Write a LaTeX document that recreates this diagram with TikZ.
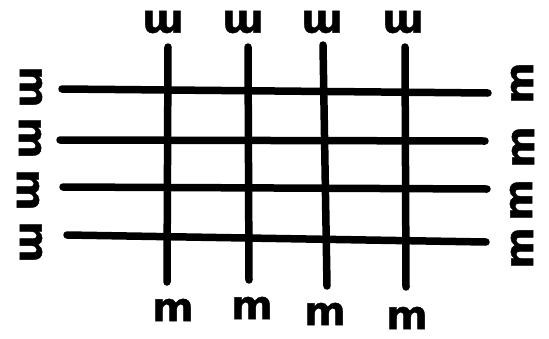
\documentclass[tikz,border=0pt]{standalone}
\usepackage{fontspec}
\newfontfamily\lblfont{DejaVu Sans}[FakeBold=1]
\begin{document}
\begin{tikzpicture}[x=1pt,y=-1pt,
  gridline/.style={line width=7.5pt,line cap=round},
  mlabel/.style={font=\lblfont\bfseries\fontsize{40}{42}\selectfont,inner sep=0pt,anchor=center}]
\useasboundingbox (0,0) rectangle (549,338);
% horizontal line ends
\coordinate (hl1) at (62,89);  \coordinate (hr1) at (488,93);
\coordinate (hl2) at (60,140); \coordinate (hr2) at (485,141);
\coordinate (hl3) at (63,187); \coordinate (hr3) at (487,189);
\coordinate (hl4) at (67,235); \coordinate (hr4) at (486,242);
% vertical line ends
\coordinate (vt1) at (168,47); \coordinate (vb1) at (167,282);
\coordinate (vt2) at (248,47); \coordinate (vb2) at (249,280);
\coordinate (vt3) at (323,45); \coordinate (vb3) at (327,286);
\coordinate (vt4) at (405,47); \coordinate (vb4) at (406,287);
\foreach \i in {1,...,4}{
  \draw[gridline] (hl\i) -- (hr\i);
  \draw[gridline] (vt\i) -- (vb\i);
}
% labels
\node[mlabel,rotate=180] (t1) at (163,22) {m};
\node[mlabel,rotate=180] (t2) at (243,22) {m};
\node[mlabel,rotate=180] (t3) at (322,22) {m};
\node[mlabel,rotate=180] (t4) at (403,22) {m};
\node[mlabel] (b1) at (173,310) {m};
\node[mlabel] (b2) at (252,308) {m};
\node[mlabel] (b3) at (325,314) {m};
\node[mlabel] (b4) at (407,318) {m};
\node[mlabel,rotate=-90] (l1) at (31,87) {m};
\node[mlabel,rotate=-90] (l2) at (30,138) {m};
\node[mlabel,rotate=-90] (l3) at (28,190) {m};
\node[mlabel,rotate=-90] (l4) at (31,242) {m};
\node[mlabel,rotate=90] (r1) at (522,83) {m};
\node[mlabel,rotate=90] (r2) at (523,147) {m};
\node[mlabel,rotate=90] (r3) at (521,200) {m};
\node[mlabel,rotate=90] (r4) at (522,248) {m};
\end{tikzpicture}
\end{document}
